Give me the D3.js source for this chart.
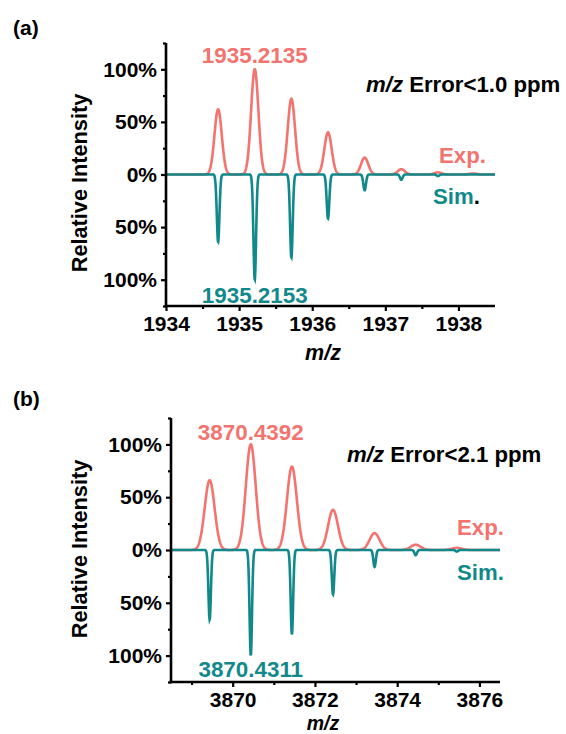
<!DOCTYPE html>
<html>
<head>
<meta charset="utf-8">
<script src="https://cdn.jsdelivr.net/npm/d3@7"></script>
<style>
body { margin: 0; background: #fff; }
text { font-family: "Liberation Sans", Arial, sans-serif; font-weight: bold; }
</style>
</head>
<body>
<svg id="chart" width="566" height="734"></svg>
<script>
// panel (a): isotope peaks (centroid m/z, relative intensity %)
var expMzA = [1934.713, 1935.214, 1935.715, 1936.216, 1936.717, 1937.218, 1937.72, 1938.2];
var expIntA = [62, 100, 72, 40, 16, 5, 2, 1];
var simMzA = [1934.713, 1935.214, 1935.715, 1936.216, 1936.717, 1937.218, 1937.72];
var simIntA = [64, 100, 79, 42, 15, 5, 1.5];
var xTicksA = [1934, 1935, 1936, 1937, 1938];
var xMinorA = [1934.5, 1935.5, 1936.5, 1937.5];

// panel (b)
var expMzB = [3869.44, 3870.44, 3871.44, 3872.44, 3873.45, 3874.45, 3875.45];
var expIntB = [66, 100, 79, 38, 16, 5, 2];
var simMzB = [3869.44, 3870.44, 3871.44, 3872.44, 3873.45, 3874.45, 3875.45];
var simIntB = [66, 100, 80, 42, 16, 5, 1.5];
var xTicksB = [3870, 3872, 3874, 3876];
var xMinorB = [3869, 3871, 3873, 3875];

var yTicks = [-100, -50, 0, 50, 100];
var yMinor = [-125, -75, -25, 25, 75, 125];

var red = "#f3736f", teal = "#11898a";
var svg = d3.select("#chart");

// profile line drawn from the centroid list
function profile(mz, inten, sigma, dom, sign) {
    var pts = [], step = (dom[1] - dom[0]) / 1500;
    for (var x = dom[0]; x <= dom[1] + 1e-9; x += step) {
        var y = 0;
        for (var i = 0; i < mz.length; i++) {
            y += inten[i] * Math.exp(-Math.pow(x - mz[i], 2) / (2 * sigma * sigma));
        }
        pts.push([x, sign * y]);
    }
    return pts;
}

function panel(o) {
    var x = d3.scaleLinear().domain(o.xDom).range([o.left, o.right]);
    var y = d3.scaleLinear().domain([-125, 125]).range([o.bottom, o.top]);
    var g = svg.append("g");

    var line = d3.line().x(function (d) { return x(d[0]); }).y(function (d) { return y(d[1]); });
    g.append("path").attr("d", line(profile(o.expMz, o.expInt, o.expSig, o.xDom, 1)))
        .attr("fill", "none").attr("stroke", red).attr("stroke-width", 2.6);
    g.append("path").attr("d", line(profile(o.simMz, o.simInt, o.simSig, o.xDom, -1)))
        .attr("fill", "none").attr("stroke", teal).attr("stroke-width", 2.6);

    // axes
    var ya = g.append("g").attr("transform", "translate(" + o.left + ",0)")
        .call(d3.axisLeft(y).tickValues(yTicks).tickSize(5).tickPadding(4)
            .tickFormat(function (d) { return Math.abs(d) + "%"; }));
    g.append("g").attr("transform", "translate(" + o.left + ",0)")
        .call(d3.axisLeft(y).tickValues(yMinor).tickSize(3).tickFormat(""));
    var xa = g.append("g").attr("transform", "translate(0," + o.bottom + ")")
        .call(d3.axisBottom(x).tickValues(o.xTicks).tickSize(5).tickPadding(5).tickFormat(d3.format("d")));
    g.append("g").attr("transform", "translate(0," + o.bottom + ")")
        .call(d3.axisBottom(x).tickValues(o.xMinor).tickSize(3).tickFormat(""));
    g.selectAll(".tick line").attr("stroke", "#000").attr("stroke-width", 2.2);
    g.selectAll(".domain").remove();
    g.append("line").attr("x1", o.left).attr("x2", o.left).attr("y1", o.top).attr("y2", o.bottom + 1.3)
        .attr("stroke", "#000").attr("stroke-width", 2.6);
    g.append("line").attr("x1", o.left - 1.3).attr("x2", o.right).attr("y1", o.bottom).attr("y2", o.bottom)
        .attr("stroke", "#000").attr("stroke-width", 2.6);
    ya.selectAll("text").attr("font-size", 21).attr("fill", "#000")
        .attr("font-family", "Liberation Sans, Arial, sans-serif");
    xa.selectAll("text").attr("font-size", 21).attr("fill", "#000")
        .attr("font-family", "Liberation Sans, Arial, sans-serif");

    // labels
    g.append("text").attr("x", 13).attr("y", o.tagY).attr("font-size", 21).text(o.tag);
    g.append("text").attr("transform", "translate(87," + o.yLabY + ") rotate(-90)")
        .attr("text-anchor", "middle").attr("font-size", 21.7).text("Relative Intensity");
    g.append("text").attr("x", 323).attr("y", o.xLabY).attr("text-anchor", "middle")
        .attr("font-size", o.xLabSize).attr("font-style", "italic").text("m/z");
    g.append("text").attr("x", x(o.topMz)).attr("y", o.topLabY).attr("text-anchor", "middle")
        .attr("font-size", 22.4).attr("fill", red).text(o.topLab);
    g.append("text").attr("x", x(o.topMz)).attr("y", o.botLabY).attr("text-anchor", "middle")
        .attr("font-size", 22.4).attr("fill", teal).text(o.botLab);
    var err = g.append("text").attr("x", o.errX).attr("y", o.errY).attr("font-size", 22.2);
    err.append("tspan").attr("font-style", "italic").text("m/z");
    err.append("tspan").text(" Error<" + o.err + " ppm");
    g.append("text").attr("x", o.legX).attr("y", o.expY).attr("font-size", 22.2)
        .attr("fill", red).text("Exp.");
    var sim = g.append("text").attr("x", o.simX).attr("y", o.simY).attr("font-size", 22.2)
        .attr("fill", teal);
    sim.append("tspan").text("Sim");
    sim.append("tspan").attr("fill", o.simDot).text(".");
}

panel({
    xDom: [1934, 1938.5], left: 166, right: 495, top: 43, bottom: 306,
    expMz: expMzA, expInt: expIntA, expSig: 0.05,
    simMz: simMzA, simInt: simIntA, simSig: 0.018,
    xTicks: xTicksA, xMinor: xMinorA,
    tag: "(a)", tagY: 35, yLabY: 183, xLabY: 360, xLabSize: 21.5,
    topMz: 1935.214, topLab: "1935.2135", topLabY: 63, botLab: "1935.2153", botLabY: 303,
    errX: 366, errY: 92, err: "1.0", legX: 439, expY: 163, simX: 433, simY: 204, simDot: "#000"
});

panel({
    xDom: [3868.5, 3876.5], left: 171, right: 500, top: 418, bottom: 682,
    expMz: expMzB, expInt: expIntB, expSig: 0.12,
    simMz: simMzB, simInt: simIntB, simSig: 0.03,
    xTicks: xTicksB, xMinor: xMinorB,
    tag: "(b)", tagY: 406, yLabY: 549, xLabY: 729.5, xLabSize: 19.5,
    topMz: 3870.44, topLab: "3870.4392", topLabY: 440, botLab: "3870.4311", botLabY: 677,
    errX: 347, errY: 462, err: "2.1", legX: 457, expY: 535, simX: 457, simY: 580, simDot: teal
});
</script>
</body>
</html>
